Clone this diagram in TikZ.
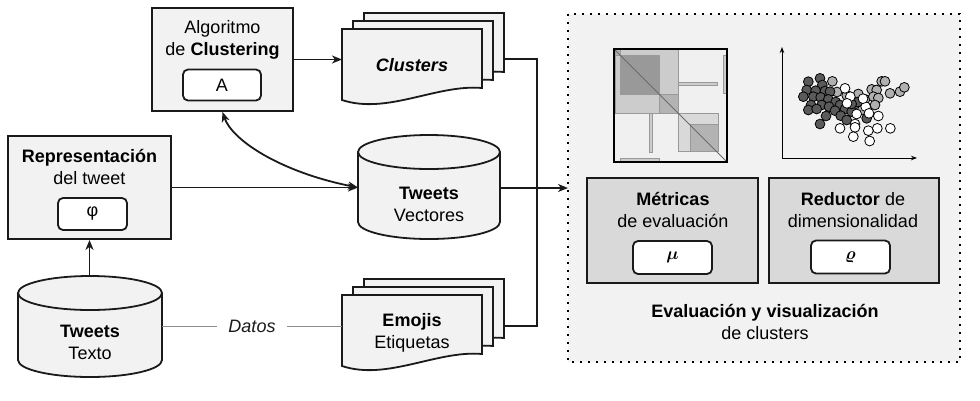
\documentclass[tikz,border=0pt]{standalone}
\usepackage[no-math]{fontspec}
\usepackage{bm}
\setmainfont{Liberation Sans}
\usetikzlibrary{arrows.meta}
\definecolor{lightf}{HTML}{F2F2F2}
\definecolor{midf}{HTML}{D9D9D9}
\definecolor{edgec}{HTML}{1A1A1A}
\definecolor{datosc}{HTML}{8C8C8C}
\definecolor{hmA}{HTML}{CCCCCC}
\definecolor{hmB}{HTML}{999999}
\definecolor{hmC}{HTML}{B3B3B3}
\definecolor{hmD}{HTML}{D9D9D9}
\definecolor{dotdark}{HTML}{5A5A5A}
\definecolor{dotgray}{HTML}{B0B0B0}
\newcommand\mydoc[2]{%
  \filldraw[docst] (#1,#2) -- (#1+140,#2) -- (#1+140,#2+59)
    .. controls (#1+95,#2+55) and (#1+45,#2+86) .. (#1,#2+71) -- cycle;}
\newcommand\mumath{$\bm{\mu}$}
\newcommand\rhomath{$\bm{\varrho}$}
\begin{document}
\begin{tikzpicture}[x=1pt,y=-1pt,
  txt/.style={inner sep=0pt, align=center, font=\fontsize{18}{22}\selectfont},
  boxst/.style={draw=edgec, fill=lightf, line width=1.8pt, inner sep=0pt},
  darkbox/.style={draw=edgec, fill=midf, line width=1.8pt, inner sep=0pt},
  inbox/.style={draw=edgec, fill=white, line width=1.8pt, rounded corners=5pt, inner sep=0pt, font=\fontsize{18}{22}\selectfont},
  ghost/.style={inner sep=0pt, outer sep=0pt},
  docst/.style={draw=edgec, fill=lightf, line width=1.8pt},
  cylst/.style={draw=edgec, fill=lightf, line width=1.8pt},
  conn/.style={draw=edgec, line width=1.8pt},
  arr/.style={conn, -{Stealth[length=10pt,width=8pt,inset=3pt]}},
  darr/.style={conn, {Stealth[length=10pt,width=8pt,inset=3pt]}-{Stealth[length=10pt,width=8pt,inset=3pt]}},
  hm/.style={draw=hmB, line width=0.8pt},
  dotst/.style={draw=black, line width=0.8pt},
]
\useasboundingbox (0,0) rectangle (980,400);

% ---------- evaluation region ----------
\node[ghost, minimum width=392pt, minimum height=348pt, fill=lightf] (eval) at (764,188) {};
\draw[line width=1.8pt, dash pattern=on 1.8pt off 6.2pt] (eval.north west) rectangle (eval.south east);

% heatmap
\fill[fill=hmD!40!white] (614,49) rectangle (727,162);
\filldraw[hm, fill=hmA] (615,49) rectangle (678,113);
\filldraw[hm, fill=hmB] (620,55) rectangle (659,94);
\filldraw[hm, fill=hmC] (615,49) rectangle (620,55);
\filldraw[hm, fill=hmC] (659,94) rectangle (678,113);
\filldraw[hm, fill=hmA] (678,82) rectangle (717,85);
\filldraw[hm, fill=hmA] (723,55) rectangle (727,93);
\filldraw[hm, fill=hmD] (678,113) rectangle (718,151);
\filldraw[hm, fill=hmC] (690,124) rectangle (718,151);
\filldraw[hm, fill=hmA] (649,113) rectangle (652,152);
\filldraw[hm, fill=hmA] (620,158) rectangle (659,162);
\draw[color=hmB!70!black, line width=1pt] (614,49) -- (727,162);
\draw[black, line width=1.3pt] (614,49) rectangle (727,162);

% scatter plot
\coordinate (orig) at (782,158);
\coordinate (ytop) at (782,47);
\coordinate (xend) at (917,158);
\draw[black, line width=1pt, -{Stealth[length=6pt,width=4.5pt]}] (orig) -- (ytop);
\draw[black, line width=1pt, -{Stealth[length=6pt,width=4.5pt]}] (orig) -- (xend);
\foreach \a/\b in {172/124,186/156,215/166,250/162,270/178,290/148,305/150,320/124,330/124,295/170,310/174,345/160,375/155,388/142,300/195,262/210,232/202}
  \filldraw[dotst, fill=dotgray] (775+\a/3,40+\b/3) circle[radius=4.9pt];
\foreach \a/\b in {100/125,135/115,142/135,95/150,122/152,150/153,165/155,85/170,115/170,137/172,160/178,182/186,108/195,140/195,162/200,195/195,100/210,125/207,180/212,210/207,230/215,197/227,215/240,153/228,135/252,248/186,275/235,230/192}
  \filldraw[dotst, fill=dotdark] (775+\a/3,40+\b/3) circle[radius=4.9pt];
\foreach \a/\b in {210/145,226/170,216/190,245/222,272/200,282/220,310/228,240/252,195/265,240/262,307/265,346/265,280/272,235/290,284/303,264/176}
  \filldraw[dotst, fill=white] (775+\a/3,40+\b/3) circle[radius=4.9pt];

% Metricas / Reductor
\node[darkbox, minimum width=171pt, minimum height=105pt] (met) at (672.5,230.5) {};
\node[txt] (mettxt) at (673,210) {\textbf{Métricas}\\de evaluación};
\node[inbox, minimum width=79pt, minimum height=33pt] (mu) at (672.5,257.5) {\mumath};
\node[darkbox, minimum width=170pt, minimum height=105pt] (red) at (854,230.5) {};
\node[txt] (redtxt) at (853,210) {\textbf{Reductor} de\\dimensionalidad};
\node[inbox, minimum width=79pt, minimum height=33pt] (rho) at (850.5,257) {\rhomath};
\node[txt] (evaltxt) at (765,321.5) {\textbf{Evaluación y visualización}\\de clusters};

% ---------- Algoritmo ----------
\node[boxst, minimum width=141pt, minimum height=103pt] (alg) at (222.5,59.5) {};
\node[txt] (algtxt) at (222.5,40) {Algoritmo\\de \textbf{Clustering}};
\node[inbox, minimum width=78pt, minimum height=31pt] (abox) at (222,85) {A};

% ---------- Representacion ----------
\node[boxst, minimum width=163pt, minimum height=103pt] (rep) at (89.5,187.5) {};
\node[txt] (reptxt) at (89.5,167) {\textbf{Representación}\\del tweet};
\node[inbox, minimum width=69pt, minimum height=32pt] (phi) at (92.5,214) {φ};

% ---------- Cylinders ----------
\filldraw[cylst] (358,152) -- (358,222) arc[start angle=180, end angle=360, x radius=71pt, y radius=17pt]
  -- (500,152) arc[start angle=0, end angle=180, x radius=71pt, y radius=17pt] -- cycle;
\draw[cylst, fill=none] (358,152) arc[start angle=180, end angle=360, x radius=71pt, y radius=17pt];
\node[ghost, minimum width=142pt, minimum height=104pt] (vec) at (429,187.5) {};
\node[txt] (vectxt) at (429,204) {\textbf{Tweets}\\Vectores};

\filldraw[cylst] (18,293) -- (18,360) arc[start angle=180, end angle=360, x radius=72pt, y radius=17pt]
  -- (162,293) arc[start angle=0, end angle=180, x radius=72pt, y radius=17pt] -- cycle;
\draw[cylst, fill=none] (18,293) arc[start angle=180, end angle=360, x radius=72pt, y radius=17pt];
\node[ghost, minimum width=144pt, minimum height=101pt] (texto) at (90,326.5) {};
\node[txt] (textotxt) at (90,342.5) {\textbf{Tweets}\\Texto};

% ---------- Documents ----------
\mydoc{364}{13}
\mydoc{353}{21}
\mydoc{342}{29}
\node[ghost, minimum width=139pt, minimum height=92pt] (cluback) at (433.5,59) {};
\node[ghost, minimum width=140pt, minimum height=61pt] (clu) at (412,59.5) {};
\node[txt] (clutxt) at (412,65) {\textbf{\itshape Clusters}};

\mydoc{364}{279}
\mydoc{353}{287}
\mydoc{342}{295}
\node[ghost, minimum width=139pt, minimum height=94pt] (emoback) at (433.5,326) {};
\node[ghost, minimum width=140pt, minimum height=64pt] (emo) at (412,327) {};
\node[txt] (emotxt) at (412,333) {\textbf{Emojis}\\Etiquetas};

% ---------- Connectors ----------
\draw[arr] (alg.east) -- (alg.east -| clu.west);
\draw[arr] (rep.east) -- (rep.east -| vec.west);
\draw[darr] (alg.south) .. controls (232,140) and (280,172) .. (vec.west);
\draw[arr] (texto.north -| rep.south) -- (rep.south);
\coordinate (jn) at (537,188);
\draw[conn] (cluback.east) -| (jn);
\draw[conn] (emoback.east) -| (jn);
\draw[arr] (vec.east |- eval.west) -- (eval.west);
\draw[draw=datosc, line width=1.8pt] (texto.east) -- node[fill=white, inner xsep=11pt, inner ysep=2pt, font=\fontsize{18}{22}\selectfont\itshape, text=edgec] (datos) {Datos} (texto.east -| emo.west);
\end{tikzpicture}
\end{document}
